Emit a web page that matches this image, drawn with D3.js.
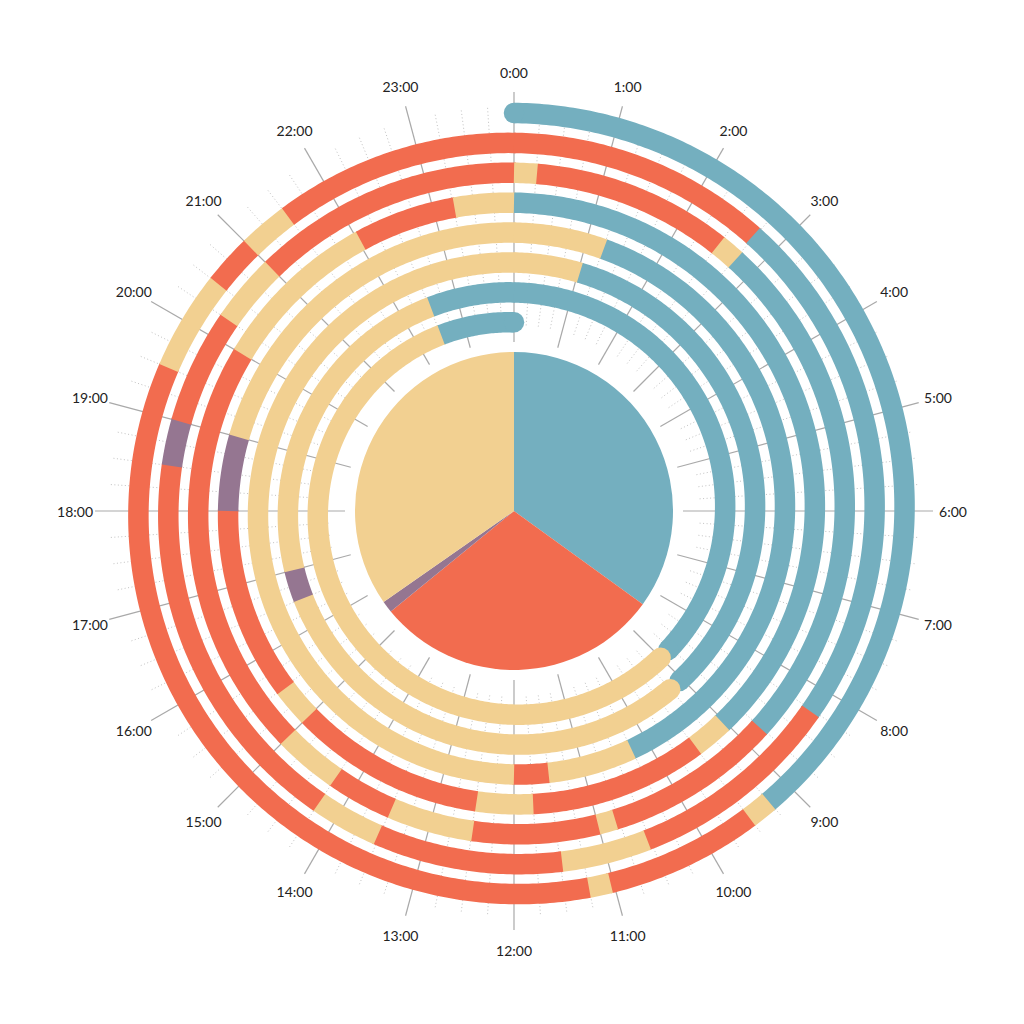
<!DOCTYPE html>
<html>
<head>
<meta charset="utf-8">
<script src="https://cdn.jsdelivr.net/npm/d3@7"></script>
<style>
  body { margin: 0; background: #fff; }
  svg { display: block; }
  .hour-label { font-family: Lato, "Open Sans", sans-serif; font-size: 14px; fill: #222; }
</style>
</head>
<body>
<svg id="chart" width="1024" height="1024"></svg>
<script>
// activity categories (pie order) and their colours
const activities = ["sleep", "work", "sport", "leisure"];
const activityColors = ["#74afbf", "#f26c4f", "#957691", "#f2d091"];

const hourTicks = d3.range(0, 24);
const quarterTicks = d3.range(0, 24, 0.25).filter(h => h % 1 !== 0);

// one list per day: [start hour, end hour, activity]
const day1 = [[0, 9.25, "sleep"], [9.25, 9.5, "leisure"], [9.5, 11.03, "work"], [11.03, 11.25, "leisure"],
              [11.25, 19.5, "work"], [19.5, 20.5, "leisure"], [20.5, 21, "work"], [21, 21.5, "leisure"],
              [21.5, 24, "work"]];
const day2 = [[0, 2.73, "work"], [2.73, 8.27, "sleep"], [8.27, 10.53, "work"], [10.53, 11.48, "leisure"],
              [11.48, 13.52, "work"], [13.52, 14.25, "leisure"], [14.25, 18.5, "work"], [18.5, 19, "sport"],
              [19, 20.25, "work"], [20.25, 21, "leisure"], [21, 24, "work"]];
const day3 = [[0, 0.26, "leisure"], [0.26, 2.5, "work"], [2.5, 2.76, "leisure"], [2.76, 8.76, "sleep"],
              [8.76, 10.79, "work"], [10.79, 11, "leisure"], [11, 12.49, "work"], [12.49, 13.49, "leisure"],
              [13.49, 14.25, "work"], [14.25, 15, "leisure"], [15, 20, "work"], [20, 22.03, "leisure"],
              [22.03, 23.26, "work"], [23.26, 24, "leisure"]];
const day4 = [[0, 9.03, "sleep"], [9.03, 9.49, "leisure"], [9.49, 11.75, "work"], [11.75, 12.49, "leisure"],
              [12.49, 15, "work"], [15, 15.48, "leisure"], [15.48, 18, "work"], [18, 19, "sport"],
              [19, 24, "leisure"]];
const day5 = [[0, 1.26, "leisure"], [1.26, 10.25, "sleep"], [10.25, 11.5, "leisure"], [11.5, 12, "work"],
              [12, 24, "leisure"]];
const day6 = [[0, 1.03, "leisure"], [1.03, 9.05, "sleep"], [9.25, 16.5, "leisure"], [16.5, 17, "sport"],
              [17, 22.52, "leisure"], [22.52, 24, "sleep"]];
const day7 = [[0, 8.8, "sleep"], [9.0, 22.5, "leisure"], [22.5, 24, "sleep"]];

const days = [day1, day2, day3, day4, day5, day6, day7];

// layout
const cx = 514, cy = 511;
const outerRadius = 398, turnGap = 29.9, bandWidth = 20.5;
const pieRadius = 159;

const svg = d3.select("#chart");
const g = svg.append("g").attr("transform", "translate(" + cx + "," + cy + ")");

const angle = d3.scaleLinear().domain([0, 24]).range([0, 2 * Math.PI]);
const radius = d3.scaleLinear()
    .domain([0, 24 * days.length])
    .range([outerRadius, outerRadius - turnGap * days.length]);
const color = d3.scaleOrdinal().domain(activities).range(activityColors);

// flatten to absolute hours along the spiral
const records = days.flatMap((day, k) =>
    day.map(([s, e, a]) => ({ t0: 24 * k + s, t1: 24 * k + e, activity: a })));
records.forEach((d, i) => {
    let prev = records[i - 1], next = records[i + 1];
    d.runStart = !prev || prev.t1 < d.t0 - 1e-6;
    d.runEnd = !next || next.t0 > d.t1 + 1e-6;
});

// grid: dotted quarter hours, solid hours
const grid = g.append("g");
grid.selectAll("line.quarter")
    .data(quarterTicks)
    .join("line")
        .attr("class", "quarter")
        .attr("x1", h => d3.pointRadial(angle(h), 186)[0])
        .attr("y1", h => d3.pointRadial(angle(h), 186)[1])
        .attr("x2", h => d3.pointRadial(angle(h), 404)[0])
        .attr("y2", h => d3.pointRadial(angle(h), 404)[1])
        .attr("stroke", "#c2c2c2")
        .attr("stroke-width", 1)
        .attr("stroke-dasharray", "1,2.5");

grid.selectAll("line.hour")
    .data(hourTicks)
    .join("line")
        .attr("class", "hour")
        .attr("x1", h => d3.pointRadial(angle(h), 169)[0])
        .attr("y1", h => d3.pointRadial(angle(h), 169)[1])
        .attr("x2", h => d3.pointRadial(angle(h), 419)[0])
        .attr("y2", h => d3.pointRadial(angle(h), 419)[1])
        .attr("stroke", "#a9a9a9")
        .attr("stroke-width", 1.2);

// spiral segments
const spiral = d3.lineRadial()
    .angle(t => angle(t))
    .radius(t => radius(t));

function samples(t0, t1) {
    let n = Math.max(2, Math.ceil((t1 - t0) / 0.04) + 1);
    return d3.range(n).map(i => t0 + (t1 - t0) * i / (n - 1));
}

const segs = g.append("g").selectAll("g")
    .data(records)
    .join("g");

// small overlap into the next segment so no seams show
segs.append("path")
    .attr("d", d => spiral(samples(d.t0, d.runEnd ? d.t1 : d.t1 + 0.02)))
    .attr("fill", "none")
    .attr("stroke", d => color(d.activity))
    .attr("stroke-width", bandWidth)
    .attr("stroke-linecap", "butt");

segs.filter(d => d.runStart).append("circle")
    .attr("cx", d => d3.pointRadial(angle(d.t0), radius(d.t0))[0])
    .attr("cy", d => d3.pointRadial(angle(d.t0), radius(d.t0))[1])
    .attr("r", bandWidth / 2)
    .attr("fill", d => color(d.activity));

segs.filter(d => d.runEnd).append("circle")
    .attr("cx", d => d3.pointRadial(angle(d.t1), radius(d.t1))[0])
    .attr("cy", d => d3.pointRadial(angle(d.t1), radius(d.t1))[1])
    .attr("r", bandWidth / 2)
    .attr("fill", d => color(d.activity));

// pie of total hours per activity
const totals = activities.map(a =>
    d3.sum(records.filter(d => d.activity === a), d => d.t1 - d.t0));
const pie = d3.pie().sort(null).value(d => d);
const arc = d3.arc().innerRadius(0).outerRadius(pieRadius);

g.append("g").selectAll("path")
    .data(pie(totals))
    .join("path")
        .attr("d", arc)
        .attr("fill", (d, i) => activityColors[i]);

// hour labels
g.append("g").selectAll("text")
    .data(hourTicks)
    .join("text")
        .attr("class", "hour-label")
        .attr("x", h => d3.pointRadial(angle(h), 439)[0])
        .attr("y", h => d3.pointRadial(angle(h), 439)[1])
        .attr("text-anchor", "middle")
        .attr("dominant-baseline", "central")
        .text(h => h + ":00");
</script>
</body>
</html>
